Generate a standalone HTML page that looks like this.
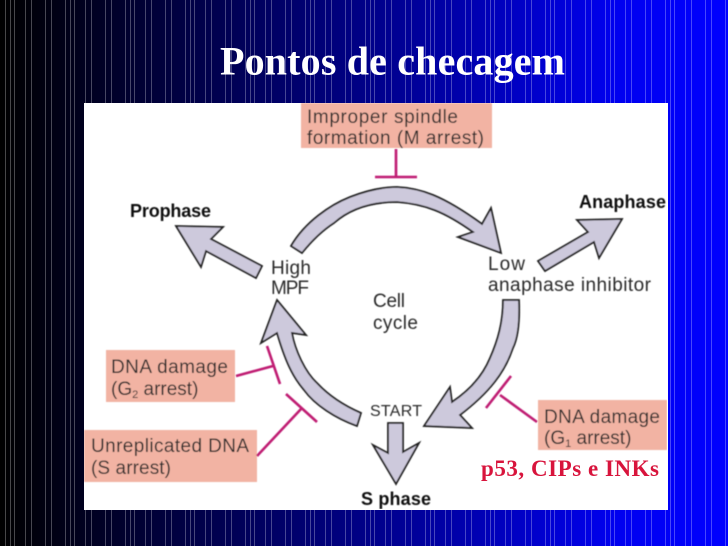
<!DOCTYPE html>
<html><head><meta charset="utf-8"><style>
html,body{margin:0;padding:0;width:728px;height:546px;overflow:hidden;background:#000}
svg{display:block}
.l{font-family:"Liberation Sans",sans-serif;font-size:19px;fill:#2a2a2a}
.b{font-family:"Liberation Sans",sans-serif;font-size:18px;font-weight:bold;fill:#111}
.a{fill:#cdc9dc;stroke:#222;stroke-width:1.8;stroke-linejoin:miter}
.i{stroke:#bf1a72;stroke-width:2.6;fill:none}
</style></head><body>
<svg width="728" height="546" viewBox="0 0 728 546" xmlns="http://www.w3.org/2000/svg">
<defs>
<linearGradient id="g" x1="0" x2="1" y1="0" y2="0">
<stop offset="0" stop-color="#000"/><stop offset=".3" stop-color="#000050"/><stop offset=".62" stop-color="#0000a8"/><stop offset=".85" stop-color="#0000f0"/><stop offset="1" stop-color="#0000ff"/>
</linearGradient>
<pattern id="p" width="60" height="8" patternUnits="userSpaceOnUse">
<rect x="5" width="1" height="8" fill="#fff" fill-opacity=".28"/>
<rect x="10" width="1" height="8" fill="#fff" fill-opacity=".28"/>
<rect x="14" width="1" height="8" fill="#fff" fill-opacity=".28"/>
<rect x="25" width="1" height="8" fill="#fff" fill-opacity=".28"/>
<rect x="31" width="1" height="8" fill="#fff" fill-opacity=".28"/>
<rect x="45" width="1" height="8" fill="#fff" fill-opacity=".28"/>
<rect x="51" width="1" height="8" fill="#fff" fill-opacity=".28"/>
</pattern>
<filter id="s" x="0" y="0" width="1" height="1"><feGaussianBlur stdDeviation=".45"/></filter>
</defs>
<rect width="728" height="546" fill="url(#g)"/>
<rect width="728" height="546" fill="url(#p)"/>
<text x="220" y="74.5" font-family="'Liberation Serif',serif" font-weight="bold" font-size="40" fill="#fff" textLength="345" lengthAdjust="spacing">Pontos de checagem</text>
<rect x="84" y="103" width="584" height="407" fill="#fff"/>
<g filter="url(#s)">
<rect x="301" y="103" width="191" height="45" fill="#f2b3a3"/>
<rect x="106" y="350" width="129" height="52" fill="#f2b3a3"/>
<rect x="84" y="430" width="173" height="52" fill="#f2b3a3"/>
<rect x="538" y="400" width="129" height="50" fill="#f2b3a3"/>

<path class="a" d="M176 226 L223 227 L211 239 L262 266 L256 278 L206 251 L201 267 Z"/>
<path class="a" d="M622 219 L577 220 L588 232 L538 261 L545 271 L594 242 L599 258 Z"/>
<path class="a" d="M291 246 C305 222 330 205 350 197 C368 190 385 187 397 187 C420 188 442 195 482 224 L491 208 L501 253 L458 237 L473 232 C445 212 425 204 397 202 C375 202 352 207 334 223 C320 232 310 243 302 253 Z"/>
<path class="a" d="M503 300 L519 300 C520 325 517 340 513 348 C505 372 490 392 460 415 L472 428 L424 426 L450 387 L452 402 C470 390 483 375 490 358 C498 340 503 322 503 300 Z"/>
<path class="a" d="M277 300 L306 335 L292 333 C295 350 305 372 317 383 C330 397 345 406 361 413 L357 426 C335 418 315 405 304 390 C292 376 285 360 277 333 L261 343 Z"/>
<path class="a" d="M388 423 L403 423 L403 452 L419 443 L396 484 L373 445 L388 453 Z"/>

<path class="i" d="M396 149V177M375 177H417"/>
<path class="i" d="M236 376L273 366M267 346L280 384"/>
<path class="i" d="M257 456L301 409M286 394L317 422"/>
<path class="i" d="M537 422L500 395M511 376L486 408"/>

<text class="l" x="307" y="123" textLength="151" lengthAdjust="spacing">Improper spindle</text>
<text class="l" x="307" y="144" textLength="177" lengthAdjust="spacing">formation (M arrest)</text>
<text class="l" x="111" y="373" textLength="117" lengthAdjust="spacing">DNA damage</text>
<text class="l" x="111" y="395">(G<tspan style="font-size:11px" dy="3">2</tspan><tspan dy="-3"> arrest)</tspan></text>
<text class="l" x="91" y="452" textLength="158" lengthAdjust="spacing">Unreplicated DNA</text>
<text class="l" x="91" y="474" textLength="80" lengthAdjust="spacing">(S arrest)</text>
<text class="l" x="544" y="423" textLength="116" lengthAdjust="spacing">DNA damage</text>
<text class="l" x="544" y="444">(G<tspan style="font-size:11px" dy="3">1</tspan><tspan dy="-3"> arrest)</tspan></text>

<text class="b" x="130" y="217" textLength="81" lengthAdjust="spacing">Prophase</text>
<text class="b" x="579" y="208" textLength="87" lengthAdjust="spacing">Anaphase</text>
<text class="l" x="271" y="274" textLength="40" lengthAdjust="spacing">High</text>
<text class="l" x="271" y="294" textLength="38" lengthAdjust="spacing">MPF</text>
<text class="l" x="488" y="270" textLength="37" lengthAdjust="spacing">Low</text>
<text class="l" x="488" y="291" textLength="163" lengthAdjust="spacing">anaphase inhibitor</text>
<text class="l" x="373" y="307" textLength="32" lengthAdjust="spacing">Cell</text>
<text class="l" x="373" y="329" textLength="45" lengthAdjust="spacing">cycle</text>
<text class="l" x="370" y="416" style="font-size:16px" textLength="52" lengthAdjust="spacing">START</text>
<text class="b" x="361" y="505" textLength="70" lengthAdjust="spacing">S phase</text>
</g>
<text x="481" y="476" font-family="'Liberation Serif',serif" font-weight="bold" font-size="23" fill="#d8143c" textLength="178" lengthAdjust="spacing">p53, CIPs e INKs</text>
</svg>
</body></html>
